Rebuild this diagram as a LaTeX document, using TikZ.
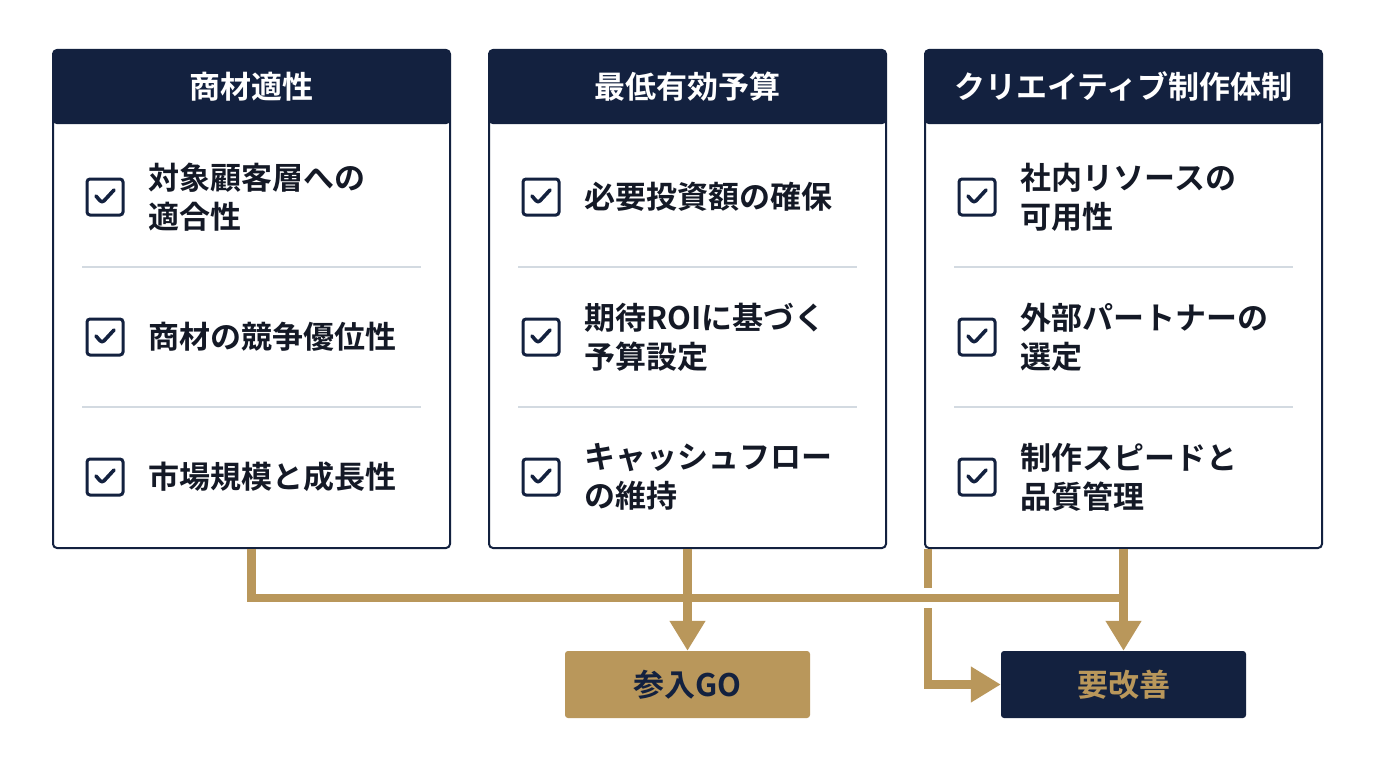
\documentclass[tikz,border=0pt]{standalone}
\usepackage{fontspec}
\setmainfont{Noto Sans CJK JP}[BoldFont={Noto Sans CJK JP Bold}]
\usetikzlibrary{arrows.meta,positioning}
\definecolor{navy}{HTML}{13213F}
\definecolor{gold}{HTML}{B9975B}
\definecolor{rule}{HTML}{D3DAE1}
\definecolor{ink}{HTML}{141926}

\begin{document}
\begin{tikzpicture}[x=1pt,y=-1pt,>={Triangle[length=30pt,width=34pt]},
    card/.style={draw=navy,line width=2pt,fill=white,rounded corners=4pt,
                 minimum width=397pt,minimum height=498pt,inner sep=0pt},
    head/.style={fill=navy,text=white,rounded corners=4pt,minimum width=397pt,
                 minimum height=75pt,font=\fontsize{31}{36}\selectfont\bfseries},
    chk/.style={draw=navy,line width=3pt,rounded corners=3pt,minimum size=36pt,
                inner sep=0pt,path picture={\draw[navy,line width=3.6pt,line cap=round,line join=round]
                ([xshift=-9pt,yshift=1pt]path picture bounding box.center)
                -- ++(6pt,-7pt) -- ++(12pt,13pt);}},
    item/.style={anchor=west,align=left,inner sep=0pt,text=ink,
                 font=\fontsize{31}{39}\selectfont\bfseries},
    sep/.style={rule,line width=1.5pt},
    wire/.style={gold,line width=8.5pt},
    result/.style={rounded corners=3pt,minimum width=245pt,minimum height=67pt,
                   font=\fontsize{31}{36}\selectfont\bfseries}]
    \useasboundingbox[fill=white] (0,0) rectangle (1376,768);

    % three check cards
    \node[card] (c1) at (251.5,299) {};
    \node[card,right=37pt of c1] (c2) {};
    \node[card,right=37pt of c2] (c3) {};
    \node[head,anchor=north] (h1) at (c1.north) {商材適性};
    \node[head,anchor=north] (h2) at (c2.north) {最低有効予算};
    \node[head,anchor=north] (h3) at (c3.north) {クリエイティブ制作体制};
    \draw[sep] ([xshift=30pt,yshift=-218pt]c1.north west) -- ([xshift=-30pt,yshift=-218pt]c1.north east);
    \draw[sep] ([xshift=30pt,yshift=-358pt]c1.north west) -- ([xshift=-30pt,yshift=-358pt]c1.north east);
    \draw[sep] ([xshift=30pt,yshift=-218pt]c2.north west) -- ([xshift=-30pt,yshift=-218pt]c2.north east);
    \draw[sep] ([xshift=30pt,yshift=-358pt]c2.north west) -- ([xshift=-30pt,yshift=-358pt]c2.north east);
    \draw[sep] ([xshift=30pt,yshift=-218pt]c3.north west) -- ([xshift=-30pt,yshift=-218pt]c3.north east);
    \draw[sep] ([xshift=30pt,yshift=-358pt]c3.north west) -- ([xshift=-30pt,yshift=-358pt]c3.north east);

    % card 1
    \node[chk] (k1a) at ([xshift=53pt,yshift=-148pt]c1.north west) {};
    \node[chk] (k1b) at ([xshift=53pt,yshift=-288pt]c1.north west) {};
    \node[chk] (k1c) at ([xshift=53pt,yshift=-428pt]c1.north west) {};
    \node[item,right=24pt of k1a] (t1a) {対象顧客層への\\適合性};
    \node[item,right=24pt of k1b] (t1b) {商材の競争優位性};
    \node[item,right=24pt of k1c] (t1c) {市場規模と成長性};
    % card 2
    \node[chk] (k2a) at ([xshift=53pt,yshift=-148pt]c2.north west) {};
    \node[chk] (k2b) at ([xshift=53pt,yshift=-288pt]c2.north west) {};
    \node[chk] (k2c) at ([xshift=53pt,yshift=-428pt]c2.north west) {};
    \node[item,right=24pt of k2a] (t2a) {必要投資額の確保};
    \node[item,right=24pt of k2b] (t2b) {期待ROIに基づく\\予算設定};
    \node[item,right=24pt of k2c] (t2c) {キャッシュフロー\\の維持};
    % card 3
    \node[chk] (k3a) at ([xshift=53pt,yshift=-148pt]c3.north west) {};
    \node[chk] (k3b) at ([xshift=53pt,yshift=-288pt]c3.north west) {};
    \node[chk] (k3c) at ([xshift=53pt,yshift=-428pt]c3.north west) {};
    \node[item,right=24pt of k3a] (t3a) {社内リソースの\\可用性};
    \node[item,right=24pt of k3b] (t3b) {外部パートナーの\\選定};
    \node[item,right=24pt of k3c] (t3c) {制作スピードと\\品質管理};

    % outcomes
    \node[result,fill=gold,text=navy] (go) at (687.5,684.5) {参入GO};
    \node[result,fill=navy,text=gold] (fix) at (1123.5,684.5) {要改善};

    \coordinate[below=49pt of c1.south] (bus);
    \coordinate (tap) at ([xshift=4pt]c3.south west);
    \draw[wire] (c1.south) -- (bus) -- (bus -| c3.south);
    \draw[wire,->] (c2.south) -- (go.north);
    \draw[wire,->] (c3.south) -- (fix.north);
    \draw[wire] (tap) -- ([yshift=10pt]tap |- bus);
    \draw[wire,->] ([yshift=-10pt]tap |- bus) |- (fix.west);
\end{tikzpicture}
\end{document}
